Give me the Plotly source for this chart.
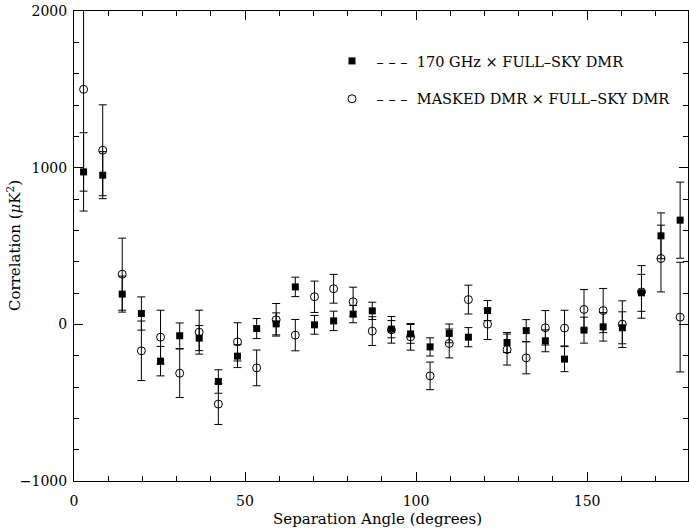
import plotly.graph_objects as go

# Separation angle bin centres (degrees)
theta = [2.8, 8.4, 14.1, 19.7, 25.3, 30.9, 36.6, 42.2, 47.8, 53.4, 59.1, 64.7,
         70.3, 75.9, 81.6, 87.2, 92.8, 98.4, 104.1, 109.7, 115.3, 120.9, 126.6,
         132.2, 137.8, 143.4, 149.1, 154.7, 160.3, 165.9, 171.6, 177.2]

# 170 GHz x FULL-SKY DMR (filled squares), uK^2
corr_170 = [973, 952, 193, 69, -235, -73, -88, -365, -203, -27, 3, 239, -3, 22,
            65, 86, -31, -61, -144, -58, -82, 88, -116, -40, -105, -222, -37,
            -16, -22, 201, 565, 665]
err_170 = [250, 150, 115, 106, 94, 82, 80, 75, 73, 64, 70, 62, 60, 62, 55, 55,
           55, 60, 58, 60, 61, 64, 64, 70, 70, 80, 83, 91, 102, 118, 146, 243]

# MASKED DMR x FULL-SKY DMR (open circles), uK^2
corr_mask = [1500, 1111, 320, -169, -82, -312, -50, -509, -112, -278, 29, -69,
             176, 227, 144, -43, -35, -80, -329, -122, 158, 1, -161, -214, -22,
             -24, 95, 88, 1, 207, 420, 46]
err_mask = [650, 290, 230, 190, 172, 155, 140, 130, 122, 114, 104, 100, 100, 92,
            93, 92, 85, 85, 88, 92, 92, 98, 99, 102, 110, 114, 127, 141, 149,
            168, 213, 350]

label_170 = "\u00a0\u2013 \u2013 \u2013\u00a0\u00a0170 GHz \u00d7 FULL\u2013SKY DMR"
label_mask = "\u00a0\u2013 \u2013 \u2013\u00a0\u00a0MASKED DMR \u00d7 FULL\u2013SKY DMR"

FONT = "DejaVu Serif"

fig = go.Figure()
fig.add_trace(go.Scatter(
    x=theta, y=corr_170, mode="markers", name=label_170,
    legendgroup="a", legendrank=1,
    marker=dict(symbol="square", size=7, color="black"),
    error_y=dict(type="data", array=err_170, visible=True, color="black",
                 thickness=1, width=4),
))
fig.add_trace(go.Scatter(
    x=theta, y=corr_mask, mode="markers", name=label_mask,
    legendgroup="b", legendrank=2,
    marker=dict(symbol="circle-open", size=8, color="black",
                line=dict(width=1, color="black")),
    error_y=dict(type="data", array=err_mask, visible=True, color="black",
                 thickness=1, width=4),
))

axis_common = dict(
    showline=True, linecolor="black", linewidth=1, mirror="ticks",
    ticks="inside", tickcolor="black", tickwidth=1, ticklen=9,
    showgrid=False, zeroline=False,
    tickfont=dict(family=FONT, size=14, color="black"),
)

fig.update_xaxes(range=[0, 179.5], tick0=0, dtick=50, ticklabelstandoff=7,
                 minor=dict(dtick=10, ticks="inside", ticklen=5,
                            tickcolor="black", tickwidth=1, showgrid=False),
                 **axis_common)
fig.update_yaxes(range=[-1000, 2000], tick0=0, dtick=1000,
                 ticklabelstandoff=3,
                 minor=dict(dtick=200, ticks="inside", ticklen=5,
                            tickcolor="black", tickwidth=1, showgrid=False),
                 **axis_common)

fig.add_annotation(text="Separation Angle (degrees)", xref="paper", yref="paper",
                   x=0.495, y=-0.080, xanchor="center", yanchor="middle",
                   showarrow=False, font=dict(family=FONT, size=15, color="black"))
fig.add_annotation(text="Correlation (<i>\u03bc</i>K<sup>2</sup>)", xref="paper",
                   yref="paper", x=-0.0977, y=0.5, xanchor="center",
                   yanchor="middle", textangle=-90, showarrow=False,
                   font=dict(family=FONT, size=15, color="black"))

fig.update_layout(
    width=689, height=529,
    margin=dict(l=74, r=1, t=11, b=48, autoexpand=False),
    paper_bgcolor="white", plot_bgcolor="white",
    showlegend=True,
    legend=dict(xref="container", yref="container", x=332 / 689,
                y=1 - 45 / 529, xanchor="left", yanchor="top",
                bgcolor="rgba(0,0,0,0)", borderwidth=0,
                traceorder="grouped", tracegroupgap=16,
                font=dict(family=FONT, size=14.5, color="black")),
)

fig.write_html(
    "out.html",
    config={"displayModeBar": False},
    post_script="document.body.style.margin='0';document.body.style.padding='0';",
)
